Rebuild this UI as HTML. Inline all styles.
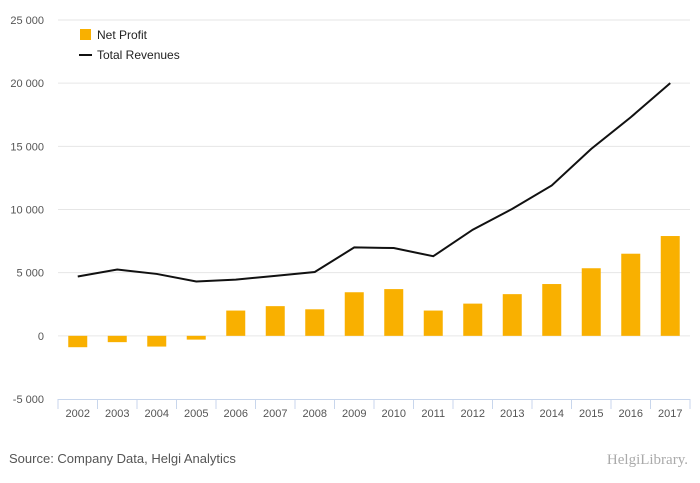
<!DOCTYPE html>
<html><head><meta charset="utf-8"><style>
body{margin:0;background:#fff;font-family:"Liberation Sans",sans-serif;}
#wrap{position:relative;width:700px;height:483px;overflow:hidden;background:#fff;}
</style></head><body>
<div id="wrap">
<svg id="chart" width="700" height="483"></svg>
</div>
<script>
const years=["2002","2003","2004","2005","2006","2007","2008","2009","2010","2011","2012","2013","2014","2015","2016","2017"];
const netProfit=[-900,-500,-850,-300,2000,2350,2100,3450,3700,2000,2550,3300,4100,5350,6500,7900];
const revenues=[4700,5250,4900,4300,4450,4750,5050,7000,6950,6300,8400,10050,11900,14800,17300,20000];
const yTicks=[-5000,0,5000,10000,15000,20000,25000];
const yTickLabels=["-5 000","0","5 000","10 000","15 000","20 000","25 000"];

const NS="http://www.w3.org/2000/svg";
const svg=document.getElementById('chart');
const X0=58,X1=690,Y0=399,Y1=20,vMin=-5000,vMax=25000;
const bw=(X1-X0)/years.length;
const y=v=>Y0-(v-vMin)/(vMax-vMin)*(Y0-Y1);
const xc=i=>X0+bw*(i+0.5);
function mk(t,a){const e=document.createElementNS(NS,t);for(const k in a)e.setAttribute(k,a[k]);svg.appendChild(e);return e;}

yTicks.forEach((v,i)=>{
  if(v>vMin){const g=mk('line',{x1:X0,x2:X1,y1:y(v),y2:y(v),stroke:'#e6e6e6','stroke-width':1});
  
  }
  const t=mk('text',{x:44,y:y(v)+4,'text-anchor':'end','font-size':11,fill:'#555'});
  t.textContent=yTickLabels[i];
  
  
});
const ax=mk('line',{x1:X0,x2:X1,y1:Y0+0.5,y2:Y0+0.5,stroke:'#c8d6ec','stroke-width':1});


for(let i=0;i<=years.length;i++){
  const tk=mk('line',{x1:X0+bw*i,x2:X0+bw*i,y1:Y0,y2:Y0+10,stroke:'#c8d6ec'});
  
  
}
years.forEach((yr,i)=>{
  const t=mk('text',{x:xc(i),y:417,'text-anchor':'middle','font-size':11,fill:'#555'});
  t.textContent=yr;
  
  
  const v=netProfit[i];
  const r=mk('rect',{x:xc(i)-9.5,width:19,y:Math.min(y(v),y(0)),height:Math.abs(y(v)-y(0)),fill:'#f9b000'});
  
  
});
const pts=revenues.map((v,i)=>xc(i)+','+y(v)).join(' ');
const ln=mk('polyline',{points:pts,fill:'none',stroke:'#111','stroke-width':2});



const l1=mk('rect',{x:80,y:29,width:11,height:11,fill:'#f9b000'});


const l1t=mk('text',{x:97,y:39,'font-size':12,fill:'#222'});l1t.textContent='Net Profit';


const l2=mk('line',{x1:79,x2:92,y1:55,y2:55,stroke:'#111','stroke-width':2});


const l2t=mk('text',{x:97,y:59,'font-size':12,fill:'#222'});l2t.textContent='Total Revenues';



const src=mk('text',{x:9,y:463,'font-size':13,fill:'#555'});src.textContent='Source: Company Data, Helgi Analytics';


const logo=mk('text',{x:688,y:464,'text-anchor':'end','font-size':15,fill:'#aaa','font-family':'Liberation Serif, serif'});logo.textContent='HelgiLibrary.';


</script>
</body></html>
